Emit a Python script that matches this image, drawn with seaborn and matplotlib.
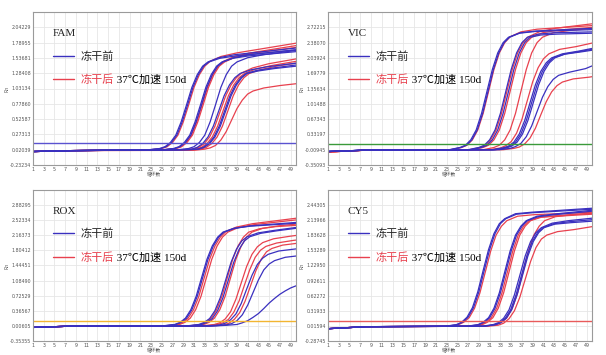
import pandas as pd
import matplotlib
matplotlib.use('Agg')
import matplotlib.pyplot as plt
from matplotlib.lines import Line2D
import seaborn as sns

BLUE = '#3a30bf'
RED = '#e8414e'
X_TICKS = list(range(1, 50, 2))

# ---------------- FAM ----------------
FAM_YTICKS = [-0.23234, 0.02039, 0.27313, 0.52587, 0.77860, 1.03134, 1.28408, 1.53681, 1.78955, 2.04229]
FAM_THRESHOLD = 0.13
FAM_GROUP = ['pre', 'pre', 'post', 'pre', 'pre', 'post', 'post', 'pre',
             'pre', 'post', 'post', 'pre', 'pre', 'post', 'post']
FAM_CYCLES = [
    [1, 8, 22.6, 24.6, 25.6, 26.6, 27.6, 28.6, 29.6, 30.6, 31.6, 32.6, 33.6, 35.6, 38.6, 50],
    [1, 8, 22.8, 24.8, 25.8, 26.8, 27.8, 28.8, 29.8, 30.8, 31.8, 32.8, 33.8, 35.8, 38.8, 50],
    [1, 8, 23, 25, 26, 27, 28, 29, 30, 31, 32, 33, 34, 36, 39, 50],
    [1, 8, 25.2, 27.2, 28.2, 29.2, 30.2, 31.2, 32.2, 33.2, 34.2, 35.2, 36.2, 38.2, 41.2, 50],
    [1, 8, 25.4, 27.4, 28.4, 29.4, 30.4, 31.4, 32.4, 33.4, 34.4, 35.4, 36.4, 38.4, 41.4, 50],
    [1, 8, 25.5, 27.5, 28.5, 29.5, 30.5, 31.5, 32.5, 33.5, 34.5, 35.5, 36.5, 38.5, 41.5, 50],
    [1, 8, 25.7, 27.7, 28.7, 29.7, 30.7, 31.7, 32.7, 33.7, 34.7, 35.7, 36.7, 38.7, 41.7, 50],
    [1, 8, 28, 30, 31, 32, 33, 34, 35, 36, 37, 38, 39, 41, 44, 50],
    [1, 8, 28.6, 30.6, 31.6, 32.6, 33.6, 34.6, 35.6, 36.6, 37.6, 38.6, 39.6, 41.6, 44.6, 50],
    [1, 8, 28.9, 30.9, 31.9, 32.9, 33.9, 34.9, 35.9, 36.9, 37.9, 38.9, 39.9, 41.9, 44.9, 50],
    [1, 8, 29.4, 31.4, 32.4, 33.4, 34.4, 35.4, 36.4, 37.4, 38.4, 39.4, 40.4, 42.4, 45.4, 50],
    [1, 8, 29.7, 31.7, 32.7, 33.7, 34.7, 35.7, 36.7, 37.7, 38.7, 39.7, 40.7, 42.7, 45.7, 50],
    [1, 8, 29.9, 31.9, 32.9, 33.9, 34.9, 35.9, 36.9, 37.9, 38.9, 39.9, 40.9, 42.9, 45.9, 50],
    [1, 8, 30.3, 32.3, 33.3, 34.3, 35.3, 36.3, 37.3, 38.3, 39.3, 40.3, 41.3, 43.3, 46.3, 50],
    [1, 8, 31, 33, 34, 35, 36, 37, 38, 39, 40, 41, 42, 44, 47, 50],
]
FAM_RN = [
    [-0.01, 0.005, 0.02, 0.04, 0.07, 0.14, 0.26, 0.48, 0.76, 1.05, 1.26, 1.40, 1.47, 1.54, 1.59, 1.70],
    [-0.01, 0.005, 0.02, 0.04, 0.07, 0.14, 0.26, 0.48, 0.76, 1.05, 1.26, 1.40, 1.47, 1.53, 1.57, 1.67],
    [-0.01, 0.005, 0.02, 0.04, 0.07, 0.14, 0.26, 0.48, 0.76, 1.05, 1.26, 1.40, 1.48, 1.56, 1.62, 1.78],
    [-0.01, 0.005, 0.02, 0.04, 0.07, 0.14, 0.26, 0.48, 0.76, 1.05, 1.26, 1.40, 1.47, 1.53, 1.57, 1.64],
    [-0.01, 0.005, 0.02, 0.04, 0.07, 0.14, 0.26, 0.48, 0.76, 1.05, 1.26, 1.40, 1.47, 1.54, 1.59, 1.67],
    [-0.01, 0.005, 0.02, 0.04, 0.07, 0.14, 0.26, 0.48, 0.76, 1.05, 1.26, 1.40, 1.48, 1.56, 1.62, 1.74],
    [-0.01, 0.005, 0.02, 0.04, 0.07, 0.14, 0.26, 0.48, 0.76, 1.05, 1.26, 1.40, 1.47, 1.55, 1.61, 1.71],
    [-0.01, 0.005, 0.02, 0.04, 0.07, 0.14, 0.26, 0.48, 0.76, 1.05, 1.26, 1.40, 1.47, 1.54, 1.59, 1.66],
    [-0.01, 0.005, 0.02, 0.03, 0.06, 0.12, 0.23, 0.41, 0.66, 0.91, 1.09, 1.21, 1.28, 1.34, 1.39, 1.45],
    [-0.01, 0.005, 0.02, 0.03, 0.06, 0.12, 0.23, 0.41, 0.66, 0.91, 1.09, 1.21, 1.29, 1.37, 1.44, 1.52],
    [-0.01, 0.005, 0.02, 0.03, 0.06, 0.12, 0.23, 0.41, 0.66, 0.91, 1.09, 1.21, 1.28, 1.35, 1.41, 1.48],
    [-0.01, 0.005, 0.02, 0.03, 0.06, 0.12, 0.23, 0.41, 0.66, 0.91, 1.09, 1.21, 1.28, 1.33, 1.37, 1.42],
    [-0.01, 0.005, 0.02, 0.03, 0.06, 0.12, 0.23, 0.41, 0.66, 0.91, 1.09, 1.21, 1.28, 1.32, 1.36, 1.40],
    [-0.01, 0.005, 0.02, 0.03, 0.06, 0.12, 0.23, 0.41, 0.66, 0.91, 1.09, 1.21, 1.28, 1.34, 1.40, 1.45],
    [-0.01, 0.005, 0.01, 0.03, 0.05, 0.09, 0.18, 0.32, 0.51, 0.70, 0.84, 0.94, 0.99, 1.04, 1.08, 1.11],
]

# ---------------- VIC ----------------
VIC_YTICKS = [-0.35093, -0.00945, 0.33197, 0.67343, 1.01488, 1.35634, 1.69779, 2.03924, 2.38070, 2.72215]
VIC_THRESHOLD = 0.127
VIC_GROUP = ['pre', 'pre', 'post', 'pre', 'post', 'pre', 'post', 'post',
             'post', 'pre', 'pre', 'pre', 'pre', 'post']
VIC_CYCLES = [
    [1, 8, 23.5, 25.5, 26.5, 27.5, 28.5, 29.5, 30.5, 31.5, 32.5, 33.5, 34.5, 36.5, 39.5, 50],
    [1, 8, 23.7, 25.7, 26.7, 27.7, 28.7, 29.7, 30.7, 31.7, 32.7, 33.7, 34.7, 36.7, 39.7, 50],
    [1, 8, 23.8, 25.8, 26.8, 27.8, 28.8, 29.8, 30.8, 31.8, 32.8, 33.8, 34.8, 36.8, 39.8, 50],
    [1, 8, 27, 29, 30, 31, 32, 33, 34, 35, 36, 37, 38, 40, 43, 50],
    [1, 8, 27.2, 29.2, 30.2, 31.2, 32.2, 33.2, 34.2, 35.2, 36.2, 37.2, 38.2, 40.2, 43.2, 50],
    [1, 8, 27.5, 29.5, 30.5, 31.5, 32.5, 33.5, 34.5, 35.5, 36.5, 37.5, 38.5, 40.5, 43.5, 50],
    [1, 8, 27.8, 29.8, 30.8, 31.8, 32.8, 33.8, 34.8, 35.8, 36.8, 37.8, 38.8, 40.8, 43.8, 50],
    [1, 8, 29.8, 31.8, 32.8, 33.8, 34.8, 35.8, 36.8, 37.8, 38.8, 39.8, 40.8, 42.8, 45.8, 50],
    [1, 8, 31, 33, 34, 35, 36, 37, 38, 39, 40, 41, 42, 44, 47, 50],
    [1, 8, 31.5, 33.5, 34.5, 35.5, 36.5, 37.5, 38.5, 39.5, 40.5, 41.5, 42.5, 44.5, 47.5, 50],
    [1, 8, 31.8, 33.8, 34.8, 35.8, 36.8, 37.8, 38.8, 39.8, 40.8, 41.8, 42.8, 44.8, 47.8, 50],
    [1, 8, 32.1, 34.1, 35.1, 36.1, 37.1, 38.1, 39.1, 40.1, 41.1, 42.1, 43.1, 45.1, 48.1, 50],
    [1, 8, 32.8, 34.8, 35.8, 36.8, 37.8, 38.8, 39.8, 40.8, 41.8, 42.8, 43.8, 45.8, 48.8, 50],
    [1, 8, 33.5, 35.5, 36.5, 37.5, 38.5, 39.5, 40.5, 41.5, 42.5, 43.5, 44.5, 46.5, 49.5, 50],
]
VIC_RN = [
    [-0.05, -0.02, -0.01, 0.04, 0.09, 0.21, 0.43, 0.80, 1.29, 1.78, 2.15, 2.38, 2.50, 2.59, 2.63, 2.67],
    [-0.05, -0.02, -0.01, 0.04, 0.09, 0.21, 0.43, 0.80, 1.29, 1.78, 2.15, 2.38, 2.50, 2.60, 2.64, 2.70],
    [-0.06, -0.02, -0.01, 0.04, 0.09, 0.21, 0.43, 0.80, 1.29, 1.78, 2.15, 2.38, 2.51, 2.62, 2.68, 2.76],
    [-0.05, -0.02, -0.01, 0.04, 0.09, 0.21, 0.43, 0.80, 1.29, 1.78, 2.15, 2.38, 2.50, 2.57, 2.60, 2.62],
    [-0.06, -0.02, -0.01, 0.04, 0.09, 0.21, 0.43, 0.80, 1.29, 1.78, 2.15, 2.38, 2.51, 2.62, 2.70, 2.80],
    [-0.05, -0.02, -0.01, 0.04, 0.09, 0.21, 0.43, 0.80, 1.29, 1.78, 2.15, 2.38, 2.50, 2.55, 2.57, 2.59],
    [-0.06, -0.02, -0.01, 0.04, 0.09, 0.21, 0.43, 0.80, 1.29, 1.78, 2.15, 2.38, 2.50, 2.60, 2.66, 2.72],
    [-0.06, -0.02, -0.01, 0.04, 0.09, 0.21, 0.43, 0.80, 1.29, 1.78, 2.15, 2.38, 2.50, 2.60, 2.65, 2.70],
    [-0.06, -0.02, -0.01, 0.03, 0.08, 0.17, 0.36, 0.67, 1.09, 1.51, 1.82, 2.02, 2.13, 2.23, 2.29, 2.37],
    [-0.05, -0.02, -0.01, 0.03, 0.07, 0.16, 0.34, 0.64, 1.04, 1.44, 1.74, 1.93, 2.04, 2.13, 2.19, 2.25],
    [-0.05, -0.02, -0.01, 0.03, 0.07, 0.16, 0.34, 0.64, 1.04, 1.44, 1.74, 1.93, 2.04, 2.12, 2.17, 2.21],
    [-0.05, -0.02, -0.01, 0.03, 0.07, 0.16, 0.34, 0.64, 1.04, 1.44, 1.74, 1.93, 2.04, 2.13, 2.19, 2.23],
    [-0.05, -0.02, -0.01, 0.02, 0.06, 0.13, 0.28, 0.52, 0.84, 1.16, 1.40, 1.56, 1.65, 1.72, 1.80, 1.86],
    [-0.06, -0.02, -0.01, 0.02, 0.05, 0.12, 0.25, 0.47, 0.77, 1.06, 1.28, 1.42, 1.50, 1.57, 1.61, 1.62],
]

# ---------------- ROX ----------------
ROX_YTICKS = [-0.35355, 0.00605, 0.36567, 0.72529, 1.08490, 1.44451, 1.80412, 2.16373, 2.52334, 2.88295]
ROX_THRESHOLD = 0.125
ROX_GROUP = ['pre', 'pre', 'post', 'post', 'pre', 'post', 'pre', 'post',
             'post', 'post', 'pre', 'post', 'pre', 'pre']
ROX_CYCLES = [
    [1, 8, 25.4, 27.4, 28.4, 29.4, 30.4, 31.4, 32.4, 33.4, 34.4, 35.4, 36.4, 38.4, 41.4, 50],
    [1, 8, 25.6, 27.6, 28.6, 29.6, 30.6, 31.6, 32.6, 33.6, 34.6, 35.6, 36.6, 38.6, 41.6, 50],
    [1, 8, 25.9, 27.9, 28.9, 29.9, 30.9, 31.9, 32.9, 33.9, 34.9, 35.9, 36.9, 38.9, 41.9, 50],
    [1, 8, 26.3, 28.3, 29.3, 30.3, 31.3, 32.3, 33.3, 34.3, 35.3, 36.3, 37.3, 39.3, 42.3, 50],
    [1, 8, 29.9, 31.9, 32.9, 33.9, 34.9, 35.9, 36.9, 37.9, 38.9, 39.9, 40.9, 42.9, 45.9, 50],
    [1, 8, 30.2, 32.2, 33.2, 34.2, 35.2, 36.2, 37.2, 38.2, 39.2, 40.2, 41.2, 43.2, 46.2, 50],
    [1, 8, 30.4, 32.4, 33.4, 34.4, 35.4, 36.4, 37.4, 38.4, 39.4, 40.4, 41.4, 43.4, 46.4, 50],
    [1, 8, 30.8, 32.8, 33.8, 34.8, 35.8, 36.8, 37.8, 38.8, 39.8, 40.8, 41.8, 43.8, 46.8, 50],
    [1, 8, 32.8, 34.8, 35.8, 36.8, 37.8, 38.8, 39.8, 40.8, 41.8, 42.8, 43.8, 45.8, 48.8, 50],
    [1, 8, 33.4, 35.4, 36.4, 37.4, 38.4, 39.4, 40.4, 41.4, 42.4, 43.4, 44.4, 46.4, 49.4, 50],
    [1, 8, 33.8, 35.8, 36.8, 37.8, 38.8, 39.8, 40.8, 41.8, 42.8, 43.8, 44.8, 46.8, 50],
    [1, 8, 34.5, 36.5, 37.5, 38.5, 39.5, 40.5, 41.5, 42.5, 43.5, 44.5, 45.5, 47.5, 50],
    [1, 8, 35, 37, 38, 39, 40, 41, 42, 43, 44, 45, 46, 48, 50],
    [1, 8, 34, 37, 39, 40, 41, 42, 43, 44, 45, 46, 47, 48, 49, 50],
]
ROX_RN = [
    [-0.03, 0.0, 0.01, 0.04, 0.09, 0.19, 0.39, 0.71, 1.15, 1.59, 1.91, 2.12, 2.24, 2.33, 2.38, 2.45],
    [-0.03, 0.0, 0.01, 0.04, 0.09, 0.19, 0.39, 0.71, 1.15, 1.59, 1.91, 2.12, 2.24, 2.33, 2.39, 2.47],
    [-0.03, 0.0, 0.01, 0.04, 0.09, 0.19, 0.39, 0.71, 1.15, 1.59, 1.91, 2.12, 2.25, 2.36, 2.44, 2.57],
    [-0.03, 0.0, 0.01, 0.04, 0.09, 0.19, 0.39, 0.71, 1.15, 1.59, 1.91, 2.12, 2.24, 2.35, 2.42, 2.53],
    [-0.03, 0.0, 0.01, 0.04, 0.09, 0.18, 0.37, 0.68, 1.10, 1.52, 1.83, 2.03, 2.13, 2.22, 2.28, 2.35],
    [-0.03, 0.0, 0.01, 0.04, 0.09, 0.19, 0.39, 0.71, 1.15, 1.59, 1.91, 2.12, 2.24, 2.32, 2.37, 2.40],
    [-0.03, 0.0, 0.01, 0.04, 0.09, 0.18, 0.37, 0.68, 1.10, 1.52, 1.83, 2.03, 2.13, 2.21, 2.27, 2.33],
    [-0.03, 0.0, 0.01, 0.04, 0.09, 0.19, 0.39, 0.71, 1.15, 1.59, 1.91, 2.12, 2.24, 2.33, 2.39, 2.43],
    [-0.03, 0.0, 0.01, 0.04, 0.08, 0.17, 0.34, 0.64, 1.03, 1.42, 1.71, 1.89, 1.99, 2.08, 2.14, 2.16],
    [-0.03, 0.0, 0.01, 0.04, 0.08, 0.16, 0.33, 0.60, 0.98, 1.35, 1.64, 1.81, 1.90, 1.98, 2.04, 2.05],
    [-0.03, 0.0, 0.01, 0.03, 0.07, 0.15, 0.29, 0.54, 0.88, 1.21, 1.47, 1.62, 1.71, 1.79, 1.84],
    [-0.03, 0.0, 0.01, 0.03, 0.07, 0.16, 0.32, 0.59, 0.95, 1.31, 1.59, 1.77, 1.85, 1.93, 1.97],
    [-0.03, 0.0, 0.01, 0.03, 0.06, 0.13, 0.27, 0.50, 0.80, 1.10, 1.34, 1.48, 1.56, 1.64, 1.67],
    [-0.03, 0.0, 0.0, 0.02, 0.04, 0.08, 0.13, 0.21, 0.30, 0.42, 0.55, 0.66, 0.76, 0.84, 0.91, 0.96],
]

# ---------------- CY5 ----------------
CY5_YTICKS = [-0.28745, 0.01594, 0.31933, 0.62272, 0.92611, 1.22950, 1.53289, 1.83628, 2.13966, 2.44305]
CY5_THRESHOLD = 0.117
CY5_GROUP = ['pre', 'pre', 'post', 'pre', 'pre', 'post', 'post', 'pre',
             'pre', 'pre', 'post', 'post']
CY5_CYCLES = [
    [1, 8, 22.8, 24.8, 25.8, 26.8, 27.8, 28.8, 29.8, 30.8, 31.8, 32.8, 33.8, 35.8, 38.8, 50],
    [1, 8, 23, 25, 26, 27, 28, 29, 30, 31, 32, 33, 34, 36, 39, 50],
    [1, 8, 23.2, 25.2, 26.2, 27.2, 28.2, 29.2, 30.2, 31.2, 32.2, 33.2, 34.2, 36.2, 39.2, 50],
    [1, 8, 26.8, 28.8, 29.8, 30.8, 31.8, 32.8, 33.8, 34.8, 35.8, 36.8, 37.8, 39.8, 42.8, 50],
    [1, 8, 27, 29, 30, 31, 32, 33, 34, 35, 36, 37, 38, 40, 43, 50],
    [1, 8, 27.3, 29.3, 30.3, 31.3, 32.3, 33.3, 34.3, 35.3, 36.3, 37.3, 38.3, 40.3, 43.3, 50],
    [1, 8, 27.6, 29.6, 30.6, 31.6, 32.6, 33.6, 34.6, 35.6, 36.6, 37.6, 38.6, 40.6, 43.6, 50],
    [1, 8, 29.6, 31.6, 32.6, 33.6, 34.6, 35.6, 36.6, 37.6, 38.6, 39.6, 40.6, 42.6, 45.6, 50],
    [1, 8, 29.9, 31.9, 32.9, 33.9, 34.9, 35.9, 36.9, 37.9, 38.9, 39.9, 40.9, 42.9, 45.9, 50],
    [1, 8, 30.1, 32.1, 33.1, 34.1, 35.1, 36.1, 37.1, 38.1, 39.1, 40.1, 41.1, 43.1, 46.1, 50],
    [1, 8, 30.2, 32.2, 33.2, 34.2, 35.2, 36.2, 37.2, 38.2, 39.2, 40.2, 41.2, 43.2, 46.2, 50],
    [1, 8, 30.6, 32.6, 33.6, 34.6, 35.6, 36.6, 37.6, 38.6, 39.6, 40.6, 41.6, 43.6, 46.6, 50],
]
CY5_RN = [
    [-0.04, 0.0, 0.01, 0.04, 0.09, 0.19, 0.38, 0.70, 1.13, 1.55, 1.87, 2.07, 2.17, 2.27, 2.30, 2.38],
    [-0.04, 0.0, 0.01, 0.04, 0.09, 0.19, 0.38, 0.70, 1.13, 1.55, 1.87, 2.07, 2.17, 2.26, 2.29, 2.36],
    [-0.04, 0.0, 0.01, 0.04, 0.09, 0.18, 0.37, 0.68, 1.10, 1.52, 1.84, 2.02, 2.13, 2.22, 2.25, 2.30],
    [-0.04, 0.0, 0.01, 0.04, 0.09, 0.18, 0.37, 0.68, 1.10, 1.52, 1.84, 2.02, 2.13, 2.22, 2.26, 2.34],
    [-0.04, 0.0, 0.01, 0.04, 0.09, 0.18, 0.37, 0.68, 1.10, 1.52, 1.84, 2.02, 2.13, 2.21, 2.25, 2.32],
    [-0.04, 0.0, 0.01, 0.04, 0.09, 0.18, 0.37, 0.68, 1.10, 1.52, 1.84, 2.02, 2.13, 2.20, 2.23, 2.28],
    [-0.04, 0.0, 0.01, 0.04, 0.09, 0.18, 0.37, 0.68, 1.10, 1.52, 1.84, 2.02, 2.13, 2.20, 2.22, 2.26],
    [-0.04, 0.0, 0.01, 0.04, 0.08, 0.17, 0.34, 0.64, 1.03, 1.42, 1.71, 1.89, 1.99, 2.08, 2.13, 2.18],
    [-0.04, 0.0, 0.01, 0.04, 0.08, 0.17, 0.34, 0.64, 1.03, 1.42, 1.71, 1.89, 1.99, 2.07, 2.11, 2.15],
    [-0.04, 0.0, 0.01, 0.04, 0.08, 0.17, 0.34, 0.64, 1.03, 1.42, 1.71, 1.89, 1.99, 2.06, 2.09, 2.12],
    [-0.04, 0.0, 0.01, 0.04, 0.09, 0.18, 0.37, 0.68, 1.10, 1.52, 1.84, 2.02, 2.13, 2.21, 2.25, 2.28],
    [-0.04, 0.0, 0.01, 0.03, 0.07, 0.16, 0.32, 0.59, 0.95, 1.31, 1.59, 1.76, 1.84, 1.91, 1.95, 2.01],
]

LEGEND_FONT = ['Liberation Serif', 'Noto Sans CJK SC']
LEGEND_LABELS = ['冻干前', '冻干后']
LEGEND_SUFFIX = ' 37℃加速 150d'


def long_table(groups, cycles, values):
    rows = []
    for well, (grp, cyc, rn) in enumerate(zip(groups, cycles, values)):
        for c, v in zip(cyc, rn):
            rows.append({'well': well, 'group': grp, 'cycle': c, 'rn': v})
    return pd.DataFrame(rows)


def draw_panel(ax, name, groups, cycles, values, yticks, threshold, thr_color):
    df = long_table(groups, cycles, values)
    sns.lineplot(data=df, x='cycle', y='rn', hue='group', units='well', estimator=None,
                 hue_order=['post', 'pre'], palette={'pre': BLUE, 'post': RED},
                 linewidth=0.9, legend=False, sort=False, ax=ax)
    ax.axhline(threshold, color=thr_color, linewidth=1.0)

    step = yticks[1] - yticks[0]
    ax.set_xlim(1, 50)
    ax.set_ylim(yticks[0], yticks[-1] + step)
    ax.set_xticks(X_TICKS)
    ax.set_yticks(yticks)
    ax.set_yticklabels([f'{t:.5f}' for t in yticks])
    ax.tick_params(axis='both', length=0, labelsize=3.4, colors='#555555', pad=1.2)
    ax.grid(True, color='#e6e6e6', linewidth=0.6)
    for sp in ax.spines.values():
        sp.set_color('#9a9a9a')
        sp.set_linewidth(0.8)

    ax.set_ylabel('Rn', fontsize=3.4, color='#555555')
    ax.yaxis.set_label_coords(-0.09, 0.5)
    ax.set_xlabel('循环数', fontsize=3.4, color='#555555', family=['Noto Sans CJK SC'])
    ax.xaxis.set_label_coords(0.46, -0.045)

    # legend block: title, blue entry, red entry with a black suffix
    handles = [Line2D([], [], color=BLUE, lw=1.0), Line2D([], [], color=RED, lw=1.0)]
    leg = ax.legend(handles, LEGEND_LABELS, title=name, loc='upper left',
                    bbox_to_anchor=(0.075, 0.888), frameon=False, alignment='left',
                    prop={'family': LEGEND_FONT, 'size': 8},
                    title_fontproperties={'family': LEGEND_FONT, 'size': 8},
                    handlelength=1.95, handletextpad=0.55, labelspacing=1.15,
                    borderpad=0, borderaxespad=0)
    texts = leg.get_texts()
    texts[1].set_color(RED)
    ax.annotate(LEGEND_SUFFIX, xy=(1, 0), xycoords=texts[1], va='bottom', ha='left',
                fontsize=8, family=LEGEND_FONT, color='black', zorder=10)


def main():
    sns.set_style('whitegrid')
    plt.rcParams['font.family'] = ['DejaVu Sans', 'Noto Sans CJK SC']

    fig = plt.figure(figsize=(6.06, 3.55), dpi=100)
    W, H = 606, 355
    ax_fam = fig.add_axes([33 / W, 1 - 165 / H, 263 / W, 153 / H])
    ax_vic = fig.add_axes([328 / W, 1 - 165 / H, 264 / W, 153 / H])
    ax_rox = fig.add_axes([33 / W, 1 - 341 / H, 263 / W, 151 / H])
    ax_cy5 = fig.add_axes([328 / W, 1 - 341 / H, 264 / W, 151 / H])

    draw_panel(ax_fam, 'FAM', FAM_GROUP, FAM_CYCLES, FAM_RN, FAM_YTICKS, FAM_THRESHOLD, '#5a52d0')
    draw_panel(ax_vic, 'VIC', VIC_GROUP, VIC_CYCLES, VIC_RN, VIC_YTICKS, VIC_THRESHOLD, '#3a9a3a')
    draw_panel(ax_rox, 'ROX', ROX_GROUP, ROX_CYCLES, ROX_RN, ROX_YTICKS, ROX_THRESHOLD, '#f2b531')
    draw_panel(ax_cy5, 'CY5', CY5_GROUP, CY5_CYCLES, CY5_RN, CY5_YTICKS, CY5_THRESHOLD, '#e85a5a')

    fig.savefig('out.png', dpi=100, facecolor='white')


if __name__ == '__main__':
    main()
